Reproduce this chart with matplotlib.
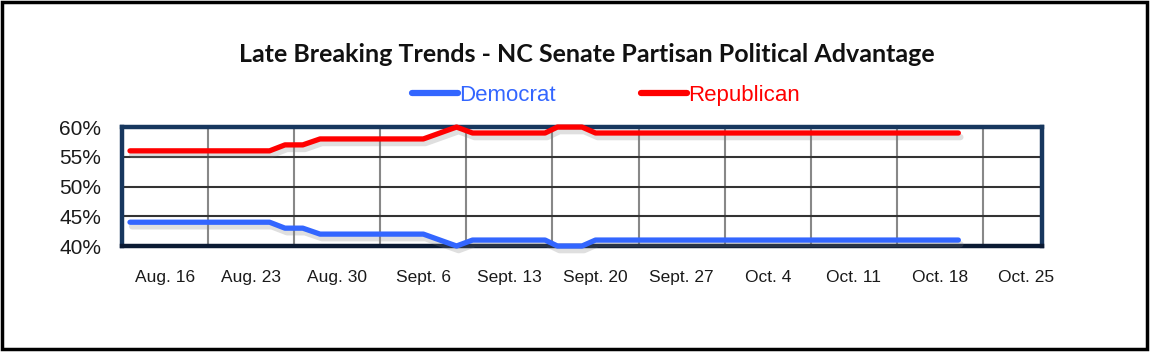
import numpy as np
import matplotlib.pyplot as plt
import matplotlib.patheffects as pe
from matplotlib.patches import Rectangle

# weekly labels, placed in the middle of each weekly cell
week_labels = ['Aug. 16', 'Aug. 23', 'Aug. 30', 'Sept. 6', 'Sept. 13', 'Sept. 20',
               'Sept. 27', 'Oct. 4', 'Oct. 11', 'Oct. 18', 'Oct. 25']

# days since the left edge of the chart
days = [0.65, 12.0, 13.25, 14.7, 16.1, 24.5, 27.2, 28.5, 34.4, 35.4, 37.4, 38.5, 68.0]
democrat = [44, 44, 43, 43, 42, 42, 40, 41, 41, 40, 40, 41, 41]
republican = [56, 56, 57, 57, 58, 58, 60, 59, 59, 60, 60, 59, 59]

y_ticks = [40, 45, 50, 55, 60]

fig = plt.figure(figsize=(11.52, 3.53), dpi=100)
ax = fig.add_axes([0.1059, 0.3031, 0.7986, 0.337])

shadow = [pe.SimpleLineShadow(offset=(1.5, -3), shadow_color='gray', alpha=0.25, linewidth=4.5),
          pe.Normal()]
ax.plot(days, democrat, color='#3366FF', lw=3.8, solid_capstyle='round', solid_joinstyle='round',
        label='Democrat', clip_on=False, zorder=5, path_effects=shadow)
ax.plot(days, republican, color='#FF0000', lw=3.8, solid_capstyle='round', solid_joinstyle='round',
        label='Republican', clip_on=False, zorder=5, path_effects=shadow)

ax.set_xlim(0, 74.8)
ax.set_ylim(40, 60)

ax.set_xticks([3.5 + 7 * i for i in range(len(week_labels))])
ax.set_xticklabels(week_labels, fontsize=12.5, color='#1a1a1a', family='Liberation Sans')
ax.set_xticks([7 * i for i in range(1, 11)], minor=True)
ax.set_yticks(y_ticks)
ax.set_yticklabels([f'{v}%' for v in y_ticks], fontsize=15, color='#1a1a1a', family='Liberation Sans')
ax.tick_params(axis='both', which='both', length=0)
ax.tick_params(axis='x', pad=17)
ax.tick_params(axis='y', pad=15)

ax.grid(axis='x', which='minor', color='#888888', lw=1.5)
ax.grid(axis='y', which='major', color='#333333', lw=1.5)
ax.set_axisbelow(True)

for s in ax.spines.values():
    s.set_color('#17375E')
    s.set_linewidth(3.2)
ax.spines['bottom'].set_color('#0B1A33')

fig.text(0.5095, 0.845, 'Late Breaking Trends - NC Senate Partisan Political Advantage',
         ha='center', va='center', fontsize=18, fontweight='bold', family='Lato', color='#111111')

leg = ax.legend(loc='center', bbox_to_anchor=(0.526, 0.73), bbox_transform=fig.transFigure,
                ncol=2, frameon=False, handlelength=2.1, handletextpad=0.05, columnspacing=3.8,
                prop={'family': 'Liberation Sans', 'size': 16}, labelcolor='linecolor')
for h in leg.get_lines():
    h.set_path_effects([])
    h.set_linewidth(4.5)

fig.add_artist(Rectangle((0.002, 0.011), 0.9935, 0.983, transform=fig.transFigure,
                         fill=False, edgecolor='black', lw=2.5))

fig.savefig('out.png', dpi=100, facecolor='white')
